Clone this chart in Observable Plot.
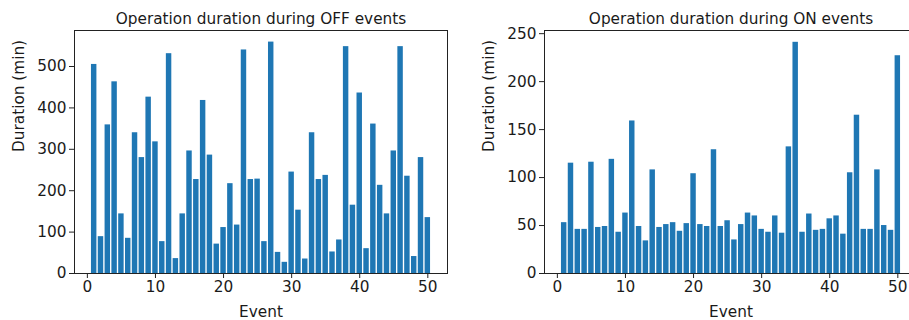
<!DOCTYPE html>
<html>
<head>
<meta charset="utf-8">
<script src="https://cdn.jsdelivr.net/npm/d3@7"></script>
<script src="https://cdn.jsdelivr.net/npm/@observablehq/plot@0.6"></script>
<style>
  html, body { margin: 0; padding: 0; background: #fff; overflow: hidden; }
  #wrap { position: relative; width: 909px; height: 320px; overflow: hidden; }
  .panel { position: absolute; top: 0; width: 460px; height: 320px; }
  #wrap svg { max-width: none !important; width: 460px !important; height: 320px !important; }
  #wrap svg text { font-size: 15.3px !important; font-family: "DejaVu Sans", sans-serif !important; }
</style>
</head>
<body>
<div id="wrap">
  <div class="panel" id="left" style="left:0px"></div>
  <div class="panel" id="right" style="left:460px"></div>
</div>
<script>
const events = [1,2,3,4,5,6,7,8,9,10,11,12,13,14,15,16,17,18,19,20,21,22,23,24,25,
  26,27,28,29,30,31,32,33,34,35,36,37,38,39,40,41,42,43,44,45,46,47,48,49,50];

const offDurations = [505,89,359,463,144,85,340,280,426,318,77,531,36,144,296,227,418,286,71,111,
  217,117,540,227,228,77,559,51,27,245,153,35,340,227,237,52,81,548,165,436,
  60,361,213,144,296,548,235,41,280,135];

const onDurations = [53,115,46,46,116,48,49,119,43,63,159,49,34,108,48,51,53,44,52,104,
  51,49,129,49,55,35,51,63,60,46,43,60,42,132,241,43,62,45,46,57,
  60,41,105,165,46,46,108,50,45,227];

const titles = ["Operation duration during OFF events", "Operation duration during ON events"];
const xTicks = [0, 10, 20, 30, 40, 50];
const offYTicks = [0, 100, 200, 300, 400, 500];
const onYTicks = [0, 50, 100, 150, 200, 250];
const xLabel = "Event";
const yLabel = "Duration (min)";

const FONT = "DejaVu Sans";
const FS = 15.3;
const TXT = "#1a1a1a";
const BAR = "#1f77b4";

function panel({values, title, yTicks, yMax, marginLeft, marginRight, labelDx}) {
  const data = events.map((e, i) => ({event: e, duration: values[i]}));
  const svg = Plot.plot({
    width: 460,
    height: 320,
    marginLeft,
    marginRight,
    marginTop: 30,
    marginBottom: 47,
    style: {fontFamily: FONT, fontSize: FS + "px", color: TXT, background: "transparent"},
    x: {domain: [-1.89, 52.89], label: null},
    y: {domain: [0, yMax], label: null},
    marks: [
      Plot.rectY(data, {
        x1: d => d.event - 0.4,
        x2: d => d.event + 0.4,
        y1: 0,
        y2: "duration",
        fill: BAR,
        inset: 0
      }),
      Plot.frame({stroke: "#222", strokeWidth: 1}),
      Plot.axisX({ticks: xTicks, tickSize: 5, tickPadding: 3, fontSize: FS, stroke: "#222", label: null}),
      Plot.axisY({ticks: yTicks, tickSize: 5, tickPadding: 3, fontSize: FS, stroke: "#222", label: null}),
      Plot.text([title], {frameAnchor: "top", lineAnchor: "middle", dy: -11, text: d => d, fontSize: FS, fill: TXT}),
      Plot.text([xLabel], {frameAnchor: "bottom", lineAnchor: "middle", dy: 39, text: d => d, fontSize: FS, fill: TXT}),
      Plot.text([yLabel], {frameAnchor: "left", lineAnchor: "middle", dx: labelDx, rotate: -90, text: d => d, fontSize: FS, fill: TXT})
    ]
  });
  svg.querySelectorAll("g").forEach(g => {
    if (g.hasAttribute("font-size")) g.setAttribute("font-size", FS);
  });
  return svg;
}

document.getElementById("left").appendChild(panel({
  values: offDurations, title: titles[0], yTicks: offYTicks, yMax: 587,
  marginLeft: 74, marginRight: 13, labelDx: -55
}));
document.getElementById("right").appendChild(panel({
  values: onDurations, title: titles[1], yTicks: onYTicks, yMax: 253.3,
  marginLeft: 84, marginRight: 3, labelDx: -55
}));
</script>
</body>
</html>
